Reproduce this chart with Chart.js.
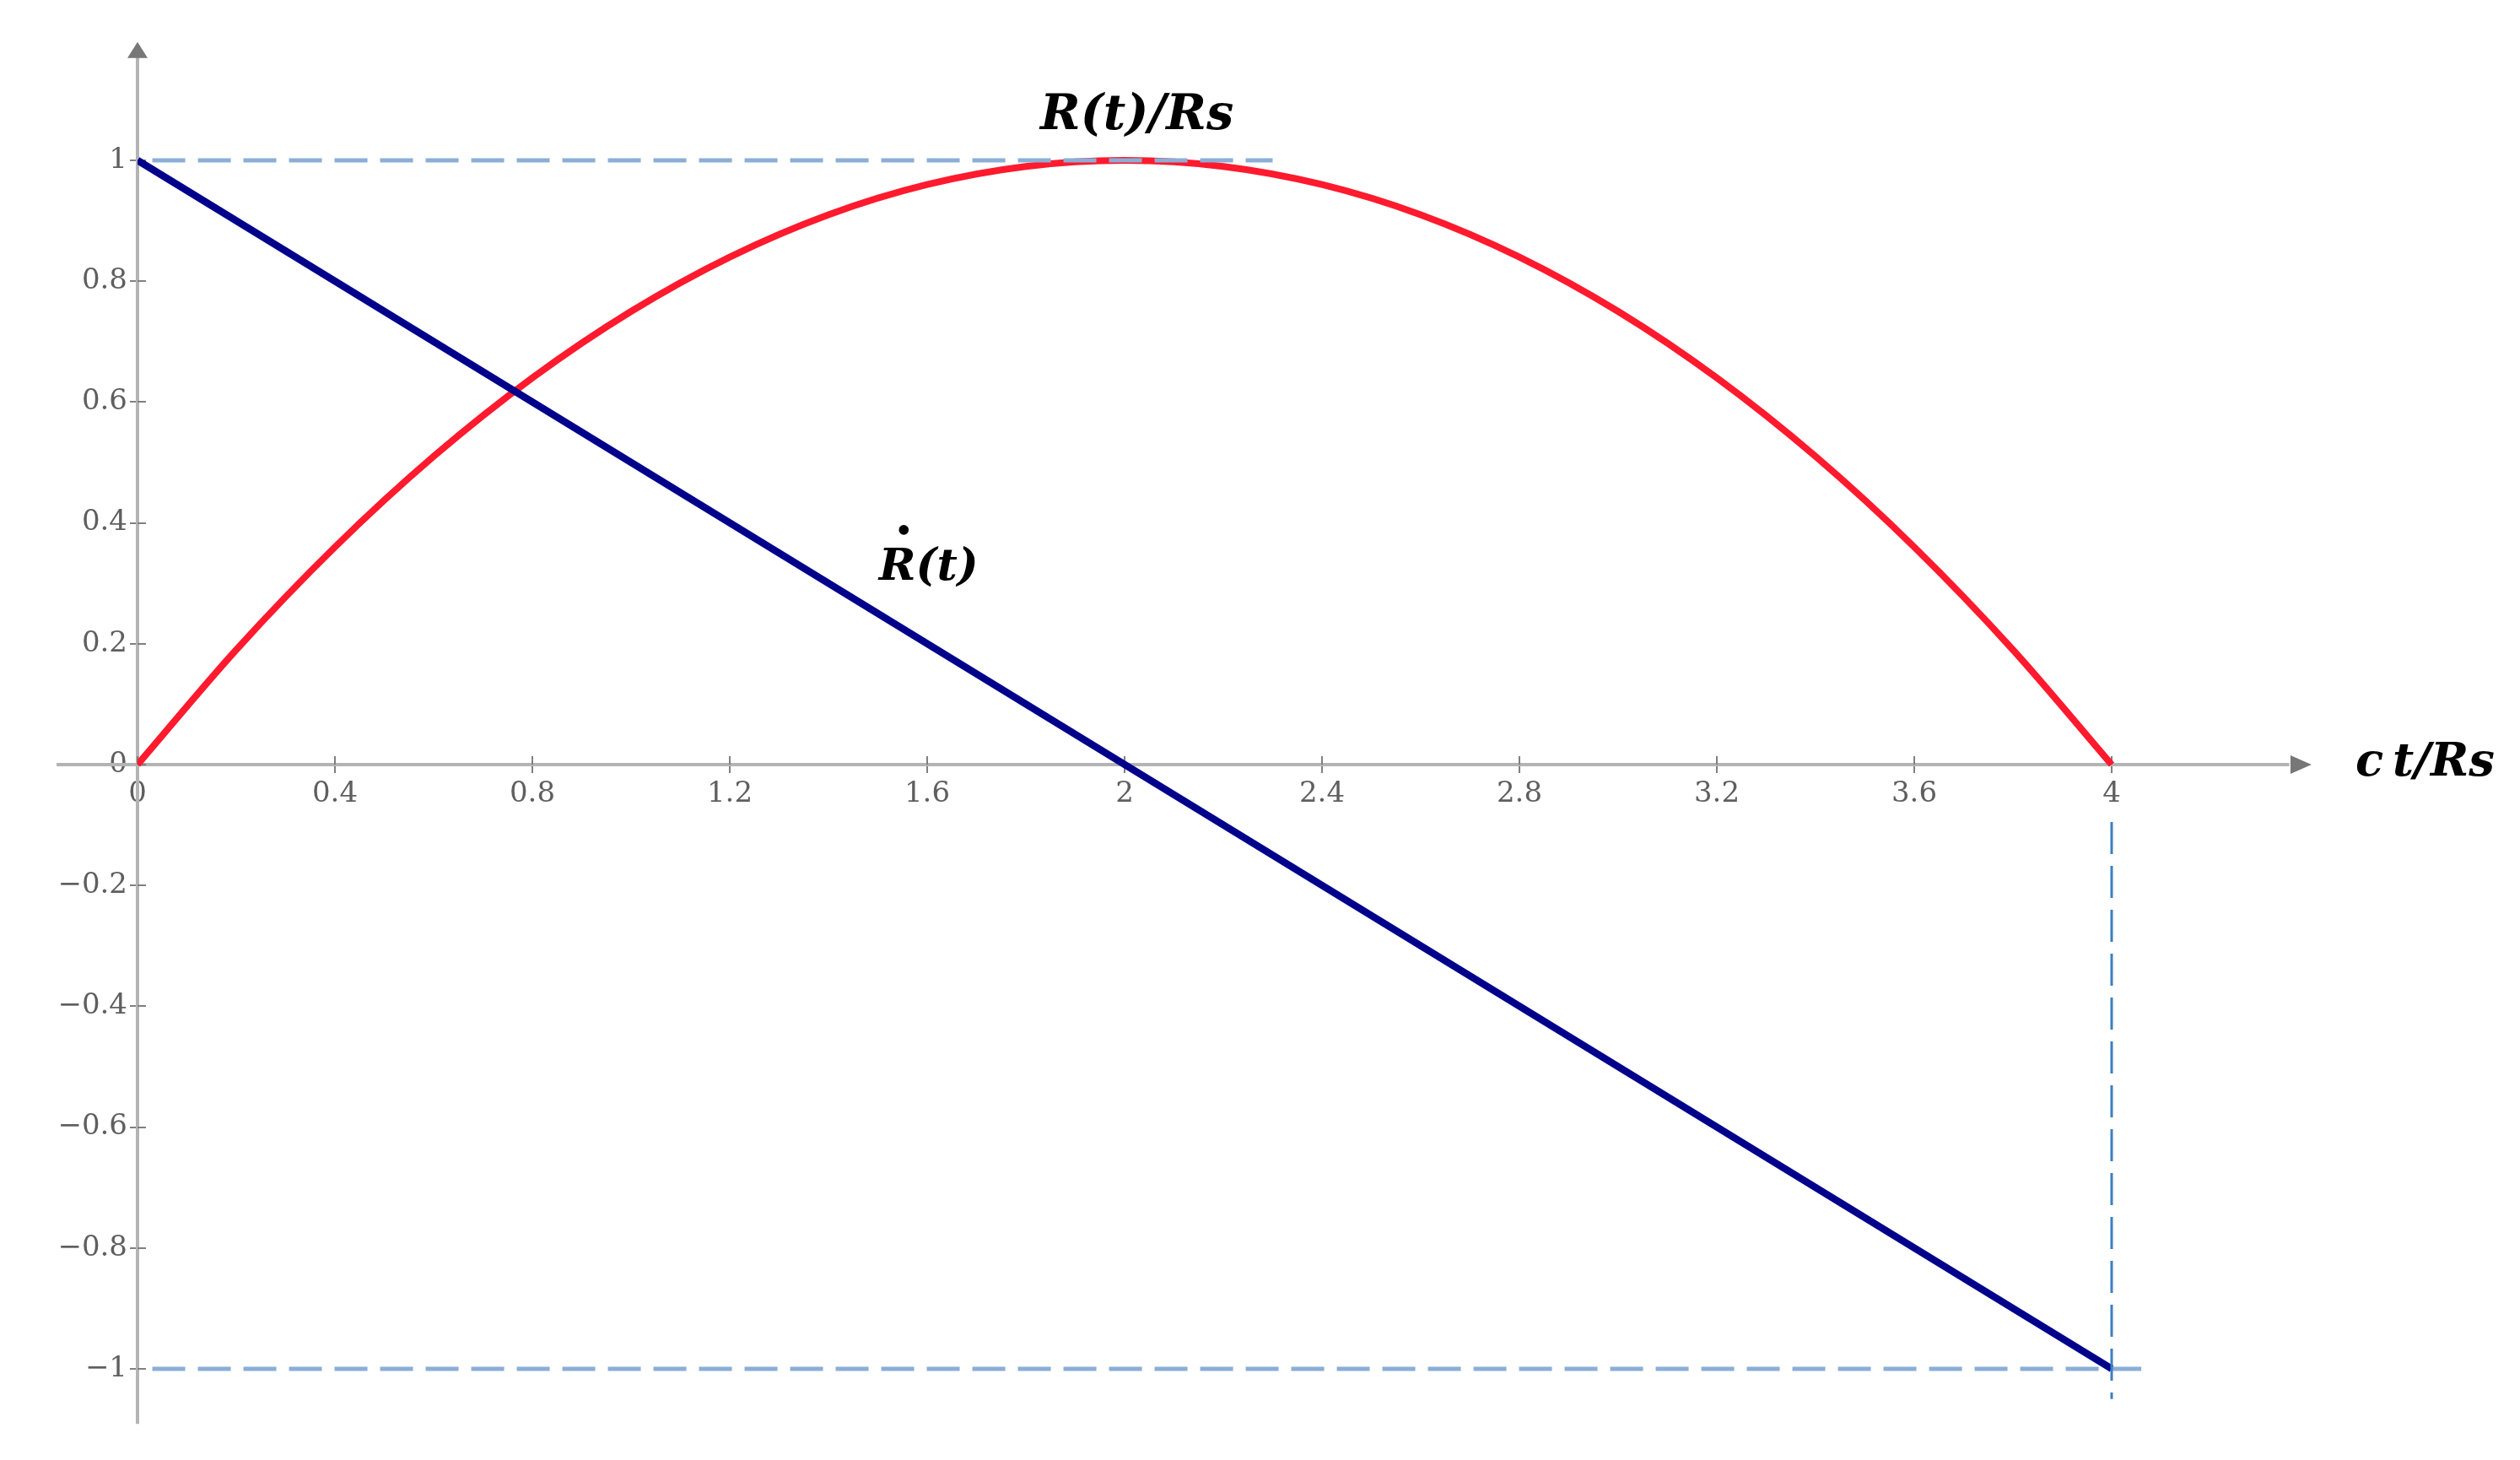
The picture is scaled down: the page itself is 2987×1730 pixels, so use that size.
<!DOCTYPE html>
<html>
<head>
<meta charset="utf-8">
<script src="https://cdn.jsdelivr.net/npm/chart.js@4.4.1/dist/chart.umd.min.js"></script>
<style>
  html, body { margin: 0; padding: 0; background: #ffffff; }
  #wrap { width: 2987px; height: 1730px; position: relative; }
</style>
</head>
<body>
<div id="wrap"><canvas id="c" width="2987" height="1730"></canvas></div>
<script>
// ---- data ----
const ctOverRs      = [0, 0.2, 0.4, 0.6, 0.8, 1.0, 1.2, 1.4, 1.6, 1.8, 2.0, 2.2, 2.4, 2.6, 2.8, 3.0, 3.2, 3.4, 3.6, 3.8, 4.0];
const radiusValues  = [0, 0.19, 0.36, 0.51, 0.64, 0.75, 0.84, 0.91, 0.96, 0.99, 1.00, 0.99, 0.96, 0.91, 0.84, 0.75, 0.64, 0.51, 0.36, 0.19, 0];
const rateX         = [0, 2, 4];
const rateValues    = [1, 0, -1];
const xTickValues   = [0, 0.4, 0.8, 1.2, 1.6, 2, 2.4, 2.8, 3.2, 3.6, 4];
const xTickLabels   = ['0', '0.4', '0.8', '1.2', '1.6', '2', '2.4', '2.8', '3.2', '3.6', '4'];
const yTickValues   = [-1, -0.8, -0.6, -0.4, -0.2, 0, 0.2, 0.4, 0.6, 0.8, 1];
const yTickLabels   = ['\u22121', '\u22120.8', '\u22120.6', '\u22120.4', '\u22120.2', '0', '0.2', '0.4', '0.6', '0.8', '1'];
const guideTopX     = [0.03, 2.30];
const guideTopY     = [1, 1];
const guideBottomX  = [0.03, 4.06];
const guideBottomY  = [-1, -1];
const guideVertX    = [4, 4];
const guideVertY    = [-0.095, -1.05];
const seriesNames   = ['R(t)/Rs', 'R(t)'];
const xAxisTitle    = 'c\u2009t/Rs';

const toPoints = (xs, ys) => xs.map((x, i) => ({ x: x, y: ys[i] }));

// ---- styles ----
const TICK_FONT = { family: 'DejaVu Serif', size: 34 };
const TICK_COLOR = '#5f5f5f';
const AXIS_COLOR = '#b4b4b4';
const TICKMARK_COLOR = '#808080';
const ARROW_COLOR = '#777777';

const axesPlugin = {
  id: 'axesPlugin',
  beforeDatasetsDraw(chart) {
    const { ctx, scales: { x, y } } = chart;
    const x0 = x.getPixelForValue(0);
    const y0 = y.getPixelForValue(0);
    ctx.save();
    ctx.strokeStyle = AXIS_COLOR;
    ctx.lineWidth = 4;
    // y axis
    const yTop = y.getPixelForValue(1.171);
    const yBot = y.getPixelForValue(-1.091);
    ctx.beginPath(); ctx.moveTo(x0, yTop); ctx.lineTo(x0, yBot); ctx.stroke();
    // x axis
    const xL = x.getPixelForValue(-0.164);
    const xR = x.getPixelForValue(4.36);
    ctx.beginPath(); ctx.moveTo(xL, y0); ctx.lineTo(xR, y0); ctx.stroke();
    // arrows
    ctx.fillStyle = ARROW_COLOR;
    const yTip = y.getPixelForValue(1.196);
    ctx.beginPath(); ctx.moveTo(x0, yTip); ctx.lineTo(x0 - 12, yTip + 19); ctx.lineTo(x0 + 12, yTip + 19); ctx.closePath(); ctx.fill();
    const xTip = x.getPixelForValue(4.405);
    ctx.beginPath(); ctx.moveTo(xTip, y0); ctx.lineTo(xTip - 25, y0 - 11); ctx.lineTo(xTip - 25, y0 + 11); ctx.closePath(); ctx.fill();
    // opposite halves of tick marks
    ctx.strokeStyle = TICKMARK_COLOR;
    ctx.lineWidth = 2;
    yTickValues.forEach(v => {
      const py = Math.round(y.getPixelForValue(v));
      ctx.beginPath(); ctx.moveTo(x0, py); ctx.lineTo(x0 + 10, py); ctx.stroke();
    });
    xTickValues.forEach(v => {
      const px = Math.round(x.getPixelForValue(v));
      ctx.beginPath(); ctx.moveTo(px, y0); ctx.lineTo(px, y0 - 10); ctx.stroke();
    });
    ctx.restore();
  },
  afterDraw(chart) {
    const { ctx, scales: { x, y } } = chart;
    ctx.save();
    ctx.fillStyle = '#000000';
    ctx.textBaseline = 'alphabetic';
    ctx.textAlign = 'center';
    const fitFont = (text, width) => {
      ctx.font = 'italic bold 100px "DejaVu Serif"';
      const w = ctx.measureText(text).width;
      const size = 100 * width / w;
      ctx.font = 'italic bold ' + size.toFixed(1) + 'px "DejaVu Serif"';
      return size;
    };
    // R(t)/Rs
    fitFont(seriesNames[0], 229);
    ctx.fillText(seriesNames[0], x.getPixelForValue(2.025), y.getPixelForValue(1.052));
    // R-dot(t)
    const w2 = 118;
    const s2 = fitFont(seriesNames[1], w2);
    const cx2 = x.getPixelForValue(1.603);
    const by2 = y.getPixelForValue(0.306);
    ctx.fillText(seriesNames[1], cx2, by2);
    ctx.beginPath();
    ctx.arc(cx2 - w2 / 2 + 0.25 * w2, by2 - s2 * 1.12, s2 * 0.11, 0, Math.PI * 2);
    ctx.fill();
    // axis title
    fitFont(xAxisTitle, 165);
    ctx.fillText(xAxisTitle, x.getPixelForValue(4.635), y.getPixelForValue(-0.018));
    ctx.restore();
  }
};

Chart.defaults.font.family = 'DejaVu Serif';

new Chart(document.getElementById('c'), {
  type: 'line',
  data: {
    datasets: [
      {
        label: 'guide top',
        data: toPoints(guideTopX, guideTopY),
        borderColor: '#8aaed6', borderWidth: 5, borderDash: [39, 15],
        pointRadius: 0, fill: false, order: 0
      },
      {
        label: 'guide vertical',
        data: toPoints(guideVertX, guideVertY),
        borderColor: '#3a80c2', borderWidth: 3, borderDash: [38, 14],
        pointRadius: 0, fill: false, order: 0
      },
      {
        label: seriesNames[1],
        data: toPoints(rateX, rateValues),
        borderColor: '#00008b', borderWidth: 8.5,
        pointRadius: 0, fill: false, order: 1
      },
      {
        label: 'guide bottom',
        data: toPoints(guideBottomX, guideBottomY),
        borderColor: '#8aaed6', borderWidth: 5, borderDash: [39, 15],
        pointRadius: 0, fill: false, order: 2
      },
      {
        label: seriesNames[0],
        data: toPoints(ctOverRs, radiusValues),
        borderColor: '#ff1a2e', borderWidth: 8,
        cubicInterpolationMode: 'monotone',
        pointRadius: 0, fill: false, order: 3
      }
    ]
  },
  options: {
    responsive: false,
    animation: false,
    devicePixelRatio: 1,
    layout: { padding: { left: 0, right: 40, top: 40, bottom: 40 } },
    plugins: { legend: { display: false }, tooltip: { enabled: false }, title: { display: false } },
    scales: {
      x: {
        type: 'linear',
        min: 0,
        max: 4.759,
        position: { y: 0 },
        afterBuildTicks: s => { s.ticks = xTickValues.map(v => ({ value: v })); },
        grid: { display: true, drawOnChartArea: false, drawTicks: true, tickLength: 10, color: TICKMARK_COLOR, lineWidth: 2 },
        border: { display: false },
        ticks: {
          autoSkip: false, maxRotation: 0, minRotation: 0,
          font: TICK_FONT, color: TICK_COLOR, padding: 5,
          callback: (v) => xTickLabels[xTickValues.indexOf(v)]
        }
      },
      y: {
        type: 'linear',
        min: -1.0950,
        max: 1.2095,
        position: 'left',
        afterFit: s => { s.width = 163; },
        afterBuildTicks: s => { s.ticks = yTickValues.map(v => ({ value: v })); },
        grid: { display: true, drawOnChartArea: false, drawTicks: true, tickLength: 9, color: TICKMARK_COLOR, lineWidth: 2 },
        border: { display: false },
        ticks: {
          autoSkip: false,
          font: TICK_FONT, color: TICK_COLOR, padding: 3,
          callback: (v) => yTickLabels[yTickValues.indexOf(v)]
        }
      }
    }
  },
  plugins: [axesPlugin]
});
</script>
</body>
</html>
